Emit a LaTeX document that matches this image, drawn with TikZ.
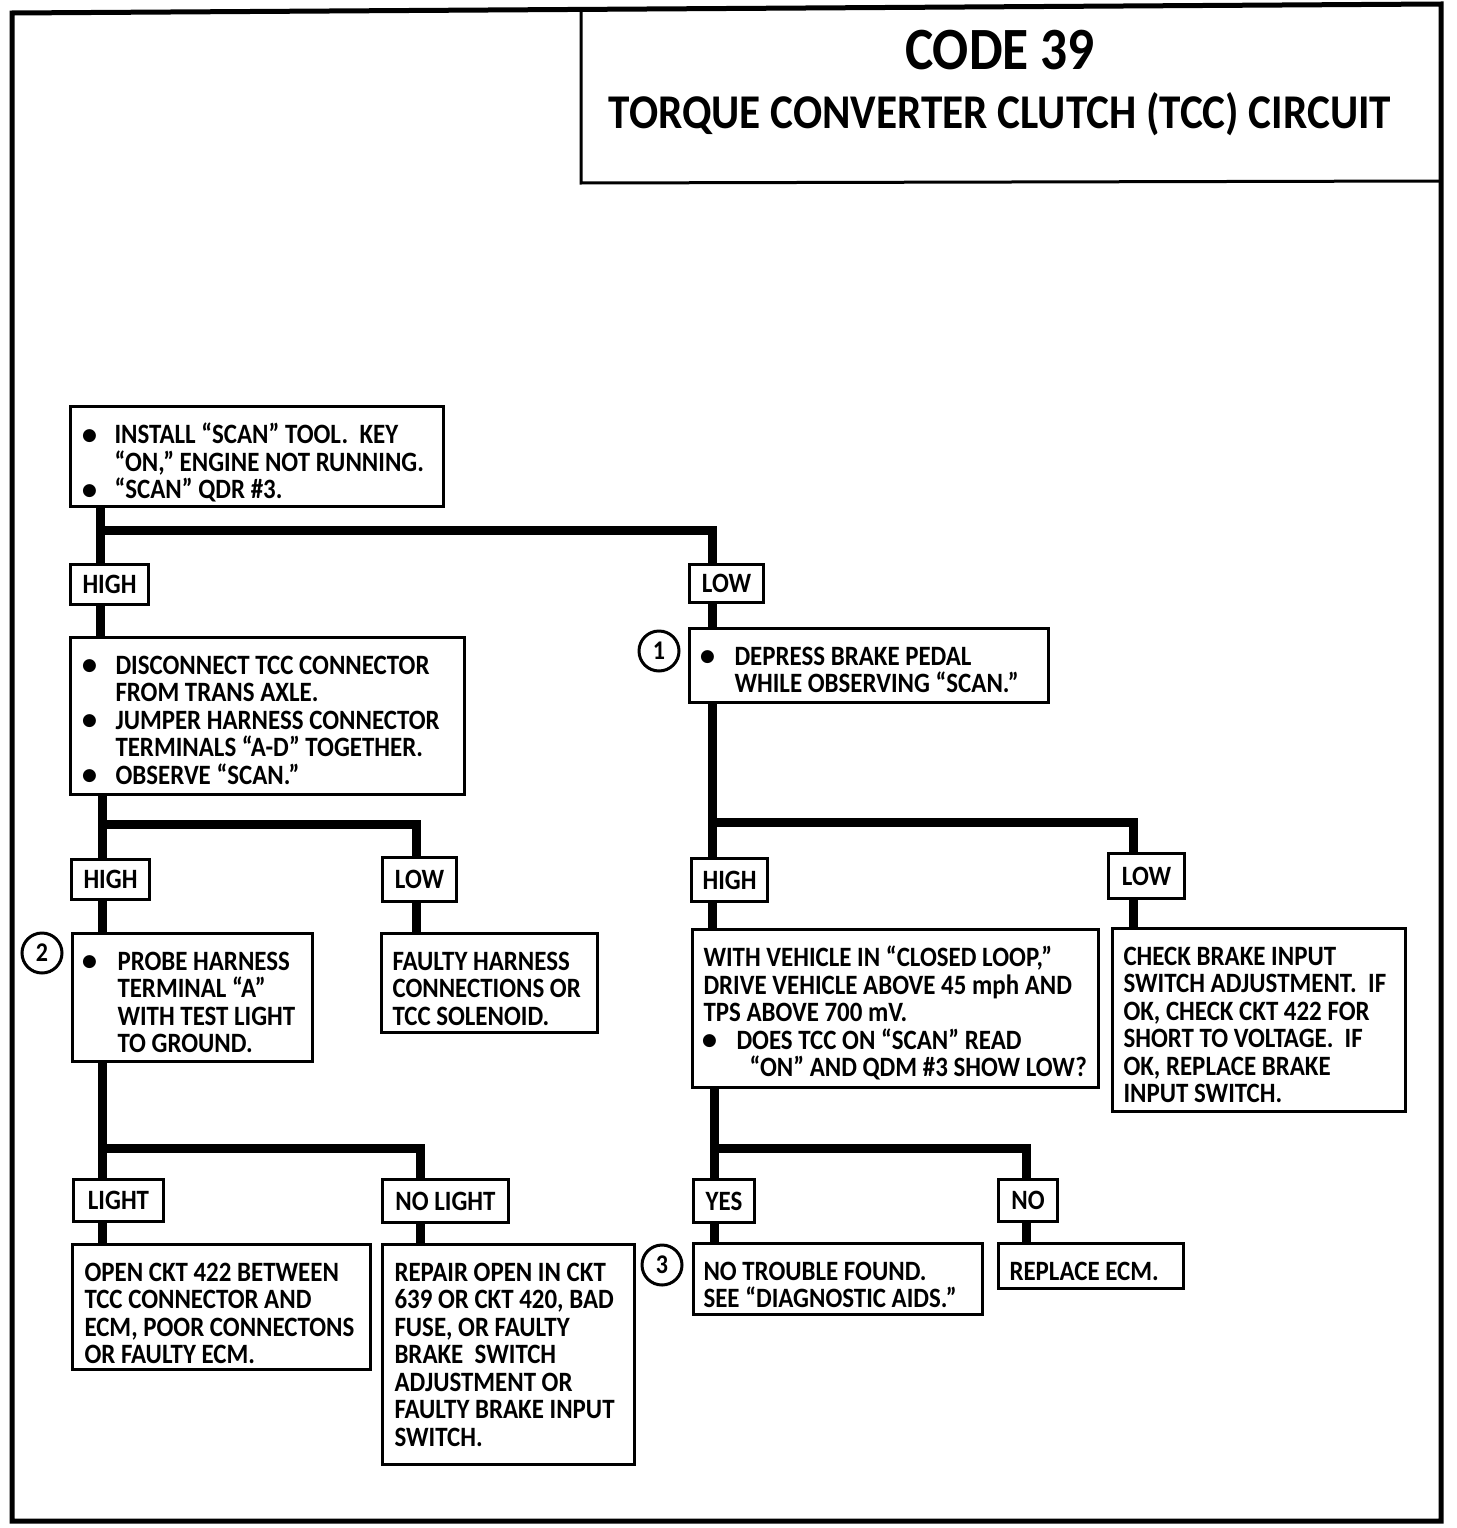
\documentclass[tikz,border=0pt]{standalone}
\usepackage{fontspec}
\setmainfont{Carlito}[FakeStretch=0.89]
\newfontfamily\symfont{DejaVu Sans}
\usepackage{graphicx}
\pgfdeclarelayer{bg}\pgfsetlayers{bg,main}
\newcommand\bodyfont{\bfseries\fontsize{28}{27.5}\selectfont}
\newcommand\strutA{\rule{0pt}{20pt}}
\newcommand\bulglyph{\smash{\raisebox{3.5pt}{\symfont\fontsize{17}{17}\selectfont ●}}}
\newcommand\Ln[2]{\hbox to \bw pt{\strutA\kern#1pt #2\hss}}
\newcommand\Bl[3]{\hbox to \bw pt{\strutA\kern#1pt\makebox[0pt]{\bulglyph}\kern\dimexpr#2pt-#1pt\relax #3\hss}}
\newcommand\fbx[6]{%
  \pgfmathsetmacro\bw{#4-#2}\pgfmathsetmacro\bh{#5-#3}%
  \node[box] (#1) at (#2,#3) {\vbox to \bh pt{\bodyfont\baselineskip=27.5pt\lineskiplimit=-100pt\lineskip=0pt\vskip16.5pt #6\vss}};}
\newcommand\lbx[6]{%
  \pgfmathsetmacro\bw{#4-#2}\pgfmathsetmacro\bh{#5-#3}%
  \node[lab, minimum width=\bw pt, minimum height=\bh pt] (#1) at (#2,#3) {#6};}
\tikzset{
  box/.style={draw, line width=3pt, fill=white, inner sep=0pt, anchor=north west},
  lab/.style={draw, line width=3pt, fill=white, inner sep=0pt, anchor=north west, font=\bodyfont},
  conn/.style={line width=9pt},
  num/.style={circle, draw, line width=3pt, minimum size=40pt, inner sep=0pt, font=\bfseries\fontsize{27}{27}\selectfont},
  frame/.style={line width=5pt},
  tline/.style={line width=3pt},
}
\begin{document}
\begin{tikzpicture}[x=1pt,y=-1pt]
\useasboundingbox (0,0) rectangle (1456,1528);
% frame and title box
\draw[frame] (12,13) -- (1441,4) -- (1441,1521) -- (12,1521) -- cycle;
\draw[tline] (581,9) -- (581,183) -- (1441,181);
\node[anchor=base, font=\bfseries\fontsize{60}{60}\selectfont] (t1) at (1000,70) {CODE 39};
\node[anchor=base, font=\bfseries\fontsize{48.5}{48.5}\selectfont] (t2) at (1000,128) {TORQUE CONVERTER CLUTCH (TCC) CIRCUIT};
% boxes
\fbx{b1}{69}{405}{442}{505}{\Bl{19}{44}{INSTALL “SCAN” TOOL.\ \ KEY}\Ln{44}{“ON,” ENGINE NOT RUNNING.}\Bl{19}{44}{“SCAN” QDR \#3.}}
\fbx{b2}{69}{636}{463}{793}{\Bl{19}{45}{DISCONNECT TCC CONNECTOR}\Ln{45}{FROM TRANS AXLE.}\Bl{19}{45}{JUMPER HARNESS CONNECTOR}\Ln{45}{TERMINALS “A-D” TOGETHER.}\Bl{19}{45}{OBSERVE “SCAN.”}}
\fbx{b3}{71}{932}{311}{1060}{\Bl{17}{45}{PROBE HARNESS}\Ln{45}{TERMINAL “A”}\Ln{45}{WITH TEST LIGHT}\Ln{45}{TO GROUND.}}
\fbx{b4}{380}{932}{596}{1031}{\Ln{11}{FAULTY HARNESS}\Ln{11}{CONNECTIONS OR}\Ln{11}{TCC SOLENOID.}}
\fbx{b5}{71}{1243}{369}{1368}{\Ln{12}{OPEN CKT 422 BETWEEN}\Ln{12}{TCC CONNECTOR AND}\Ln{12}{ECM, POOR CONNECTONS}\Ln{12}{OR FAULTY ECM.}}
\fbx{b6}{381}{1243}{633}{1463}{\Ln{12}{REPAIR OPEN IN CKT}\Ln{12}{639 OR CKT 420, BAD}\Ln{12}{FUSE, OR FAULTY}\Ln{12}{BRAKE\ \ SWITCH}\Ln{12}{ADJUSTMENT OR}\Ln{12}{FAULTY BRAKE INPUT}\Ln{12}{SWITCH.}}
\fbx{b7}{688}{627}{1047}{701}{\Bl{18}{45}{DEPRESS BRAKE PEDAL}\Ln{45}{WHILE OBSERVING “SCAN.”}}
\fbx{b8}{691}{928}{1097}{1086}{\Ln{11}{WITH VEHICLE IN “CLOSED LOOP,”}\Ln{11}{DRIVE VEHICLE ABOVE 45 mph AND}\Ln{11}{TPS ABOVE 700 mV.}\Bl{17}{44}{DOES TCC ON “SCAN” READ}\Ln{57}{“ON” AND QDM \#3 SHOW LOW?}}
\fbx{b9}{1111}{927}{1404}{1110}{\Ln{11}{CHECK BRAKE INPUT}\Ln{11}{SWITCH ADJUSTMENT.\ \ IF}\Ln{11}{OK, CHECK CKT 422 FOR}\Ln{11}{SHORT TO VOLTAGE.\ \ IF}\Ln{11}{OK, REPLACE BRAKE}\Ln{11}{INPUT SWITCH.}}
\fbx{b10}{692}{1242}{981}{1313}{\Ln{10}{NO TROUBLE FOUND.}\Ln{10}{SEE “DIAGNOSTIC AIDS.”}}
\fbx{b11}{997}{1242}{1182}{1287}{\Ln{11}{REPLACE ECM.}}
% labels
\lbx{high1}{69}{563}{147}{603}{HIGH}
\lbx{low1}{688}{563}{762}{601}{LOW}
\lbx{high2}{70}{858}{148}{898}{HIGH}
\lbx{low2}{381}{856}{455}{900}{LOW}
\lbx{high3}{690}{857}{766}{900}{HIGH}
\lbx{low3}{1107}{852}{1183}{897}{LOW}
\lbx{light}{72}{1178}{162}{1220}{LIGHT}
\lbx{nolight}{381}{1178}{507}{1221}{NO LIGHT}
\lbx{yes}{692}{1178}{753}{1221}{YES}
\lbx{no}{997}{1178}{1056}{1220}{NO}
% numbered circles
\node[num] (n1) at (659,651) {1};
\node[num] (n2) at (42,953) {2};
\node[num] (n3) at (662,1265) {3};
% junctions
\coordinate (j1) at (100,530);
\coordinate (j2) at (712,822);
\coordinate (j3) at (1133,822);
\coordinate (j4) at (102,824);
\coordinate (j5) at (416,824);
\coordinate (j6) at (102,1148);
\coordinate (j7) at (420,1148);
\coordinate (j8) at (714,1148);
\coordinate (j9) at (1026,1148);
\begin{pgfonlayer}{bg}
\draw[conn] (b1.south -| j1) -- (b2.north -| j1);
\draw[conn] (j1) -| (b7.north -| j2);
\draw[conn] (b7.south -| j2) -- (b8.north -| j2);
\draw[conn] (j2) -- (j3) -- (b9.north -| j3);
\draw[conn] (b2.south -| j4) -- (b3.north -| j4);
\draw[conn] (j4) -- (j5) -- (b4.north -| j5);
\draw[conn] (b3.south -| j6) -- (b5.north -| j6);
\draw[conn] (j6) -- (j7) -- (b6.north -| j7);
\draw[conn] (b8.south -| j8) -- (b10.north -| j8);
\draw[conn] (j8) -- (j9) -- (b11.north -| j9);
\end{pgfonlayer}
\end{tikzpicture}
\end{document}
